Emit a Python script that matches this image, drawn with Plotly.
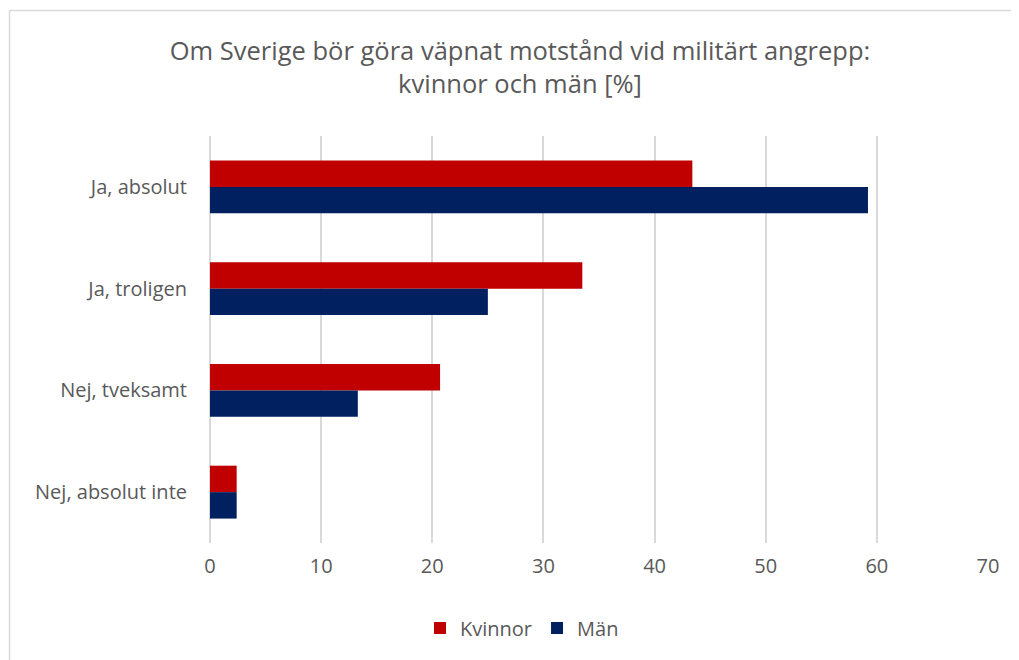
import plotly.graph_objects as go

categories = ["Ja, absolut", "Ja, troligen", "Nej, tveksamt", "Nej, absolut inte"]
kvinnor = [43.4, 33.5, 20.7, 2.4]
man = [59.2, 25.0, 13.3, 2.4]
x_ticks = [0, 10, 20, 30, 40, 50, 60, 70]

# page body has an 8px margin; work in figure coordinates (screen - 8)
OFF = 8
W, H = 1011, 652
L, R, T, B = 210 - OFF, W - (988 - OFF), 136 - OFF, H - (543 - OFF)
pw, ph = W - L - R, H - T - B

def px_x(p):
    return (p - OFF - L) / pw

def px_y(p):
    return (H - B - (p - OFF)) / ph

fig = go.Figure()
fig.add_trace(go.Bar(y=categories, x=kvinnor, name="Kvinnor", orientation="h",
                     marker=dict(color="#C00000", line=dict(width=0))))
fig.add_trace(go.Bar(y=categories, x=man, name="Män", orientation="h",
                     marker=dict(color="#002060", line=dict(width=0))))

font_family = "'Open Sans', sans-serif"
fig.update_layout(
    width=W, height=H,
    margin=dict(l=L, r=R, t=T, b=B, pad=0),
    paper_bgcolor="white", plot_bgcolor="white",
    barmode="group", bargap=0.48, bargroupgap=0,
    font=dict(family=font_family, color="#595959", size=20),
    title=dict(text="Om Sverige bör göra väpnat motstånd vid militärt angrepp:<br>kvinnor och män [%]",
               x=px_x(520), xref="paper", xanchor="center",
               y=1 - (60 - OFF) / H, yref="container", yanchor="middle",
               font=dict(size=25.5, color="#595959", family=font_family)),
    xaxis=dict(range=[0, 70], tickvals=x_ticks, showgrid=True, gridcolor="#D9D9D9", gridwidth=1.5,
               zeroline=True, zerolinecolor="#D9D9D9", zerolinewidth=1.5, showline=False,
               ticks="", tickfont=dict(size=20, color="#595959"), ticklabelstandoff=9),
    yaxis=dict(autorange="reversed", showgrid=False, zeroline=False, showline=False, ticks="",
               tickfont=dict(size=20, color="#595959"), ticklabelstandoff=22),
    legend=dict(orientation="h", x=px_x(522), xanchor="center", y=px_y(628), yanchor="middle",
                font=dict(size=20, color="#595959"), itemwidth=30, traceorder="normal"),
    showlegend=True,
)

# chart area border (top and left visible)
fig.add_shape(type="line", xref="paper", yref="paper",
              x0=px_x(9.5), x1=px_x(1040), y0=px_y(10.5), y1=px_y(10.5),
              line=dict(color="#D9D9D9", width=1.5))
fig.add_shape(type="line", xref="paper", yref="paper",
              x0=px_x(9.5), x1=px_x(9.5), y0=px_y(10.5), y1=px_y(680),
              line=dict(color="#D9D9D9", width=1.5))

fig.write_html("out.html")
